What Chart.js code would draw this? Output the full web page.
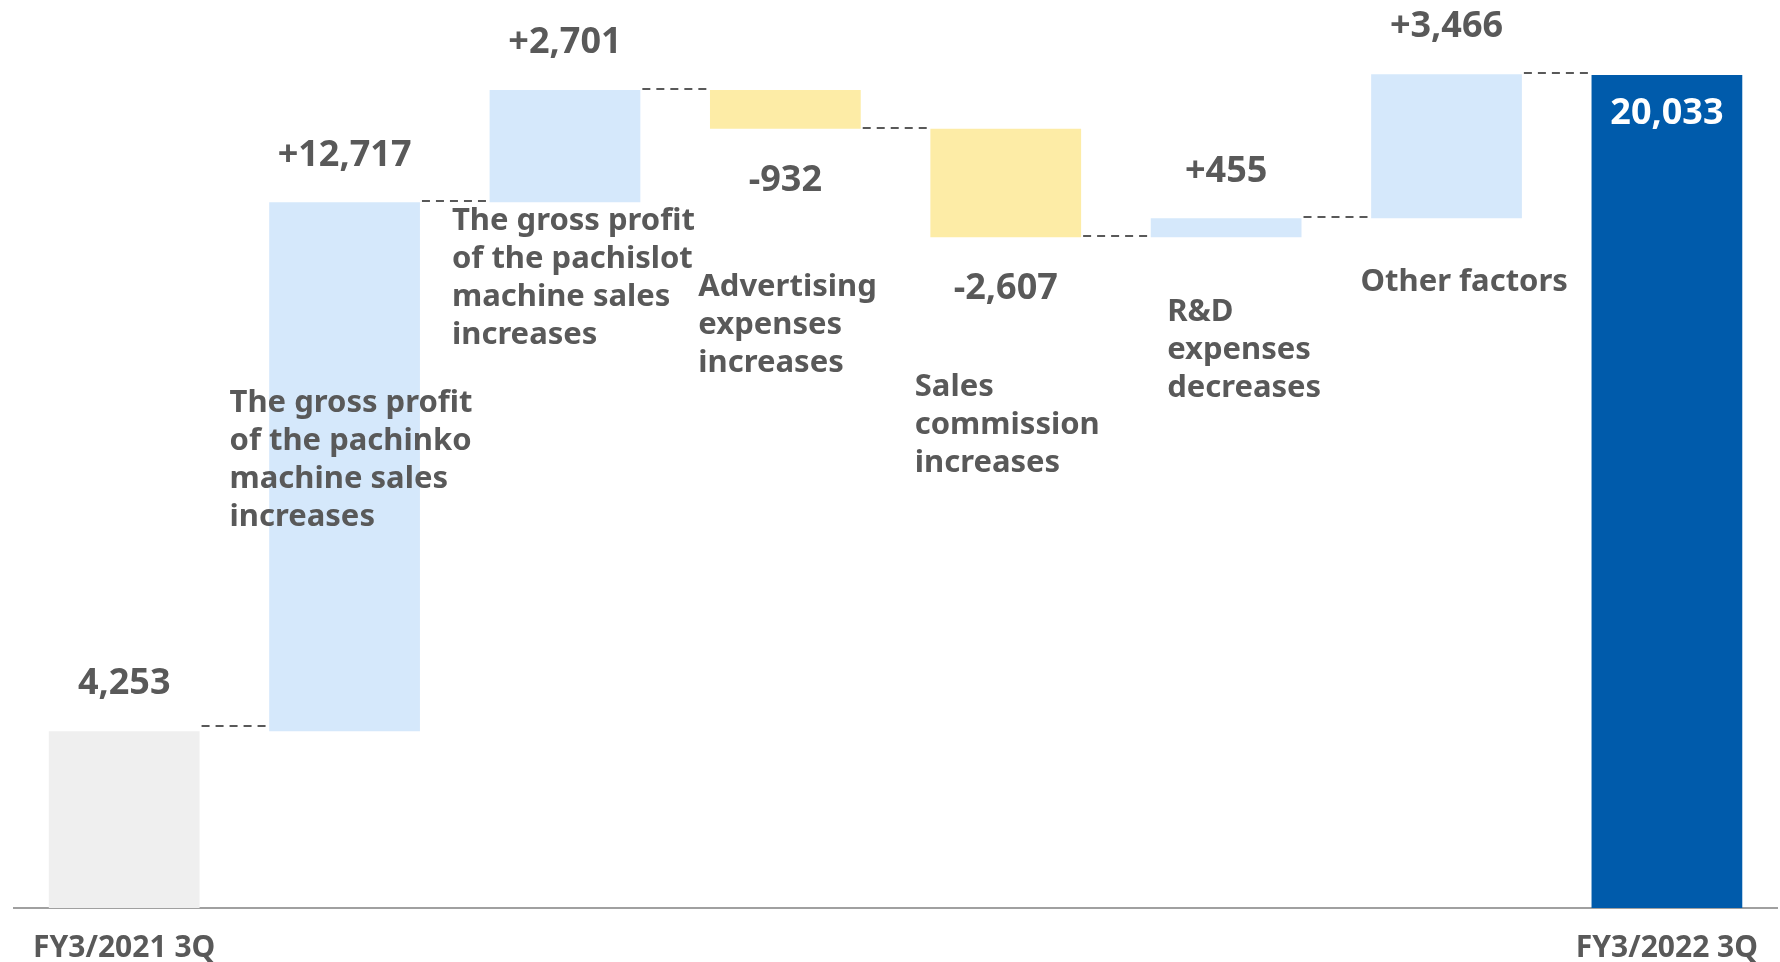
<!DOCTYPE html>
<html>
<head>
<meta charset="utf-8">
<script src="https://cdn.jsdelivr.net/npm/chart.js@4/dist/chart.umd.min.js"></script>
<style>
  html, body { margin: 0; padding: 0; background: #fff; }
  #wrap { width: 1780px; height: 962px; }
</style>
</head>
<body>
<div id="wrap"><canvas id="bridge"></canvas></div>
<script>
// === Data ===
const categories = ['FY3/2021 3Q', 'Pachinko', 'Pachislot', 'Advertising', 'Sales commission', 'R&D', 'Other factors', 'FY3/2022 3Q'];
const startValue = 4253;
const changes = [12717, 2701, -932, -2607, 455, 3466];
const endValue = 20033;
const noteLines = [
  ['The gross profit', 'of the pachinko', 'machine sales', 'increases'],
  ['The gross profit', 'of the pachislot', 'machine sales', 'increases'],
  ['Advertising', 'expenses', 'increases'],
  ['Sales', 'commission', 'increases'],
  ['R&D', 'expenses', 'decreases'],
  ['Other factors']
];

// === Layout / style (not data) ===
const noteOffsets = [[-115, 389], [-113, 207], [-87, 273], [-91, 373], [-59, 298], [-86, 268]];
const textColor = '#595959';
const fontFamily = '"Noto Sans", "DejaVu Sans", sans-serif';

// build floating bars
const bars = [[0, startValue]];
let running = startValue;
changes.forEach(c => {
  bars.push([running, running + c]);
  running += c;
});
bars.push([0, endValue]);

const colors = [
  '#efefef',
  ...changes.map(c => c >= 0 ? '#d5e8fb' : '#fdeca6'),
  '#005bab'
];

const fmt = v => Math.abs(v).toLocaleString('en-US');
const valueTexts = [fmt(startValue), ...changes.map(c => (c >= 0 ? '+' : '-') + fmt(c)), fmt(endValue)];

// === Plugins ===
const connectors = {
  id: 'connectors',
  afterDatasetsDraw(chart) {
    const ctx = chart.ctx;
    const meta = chart.getDatasetMeta(0);
    const y = chart.scales.y;
    ctx.save();
    ctx.strokeStyle = textColor;
    ctx.lineWidth = 2;
    ctx.setLineDash([8, 6]);
    for (let i = 0; i < bars.length - 1; i++) {
      const a = meta.data[i], b = meta.data[i + 1];
      const py = Math.round(y.getPixelForValue(bars[i][1])) - (i === 0 ? 5 : 1);
      ctx.beginPath();
      ctx.moveTo(a.x + a.width / 2 + 2, py);
      ctx.lineTo(b.x - b.width / 2, py);
      ctx.stroke();
    }
    ctx.restore();
  }
};

const labels = {
  id: 'labels',
  afterDatasetsDraw(chart) {
    const ctx = chart.ctx;
    const meta = chart.getDatasetMeta(0);
    const y = chart.scales.y;
    const area = chart.chartArea;
    ctx.save();
    ctx.textAlign = 'center';
    ctx.textBaseline = 'middle';
    ctx.font = 'bold 36px ' + fontFamily;
    bars.forEach((b, i) => {
      const el = meta.data[i];
      const top = y.getPixelForValue(Math.max(b[0], b[1]));
      const bottom = y.getPixelForValue(Math.min(b[0], b[1]));
      let py, col = textColor;
      if (i === bars.length - 1) { py = top + 39; col = '#ffffff'; }
      else if (i > 0 && changes[i - 1] < 0) py = bottom + 52;
      else py = top - 47;
      ctx.fillStyle = col;
      ctx.fillText(valueTexts[i], el.x, py);
    });

    // descriptions
    ctx.textAlign = 'left';
    ctx.font = 'bold 31px ' + fontFamily;
    ctx.fillStyle = textColor;
    noteLines.forEach((lines, k) => {
      const el = meta.data[k + 1];
      const [dx, dy] = noteOffsets[k];
      lines.forEach((t, j) => ctx.fillText(t, el.x + dx, area.top + dy + j * 38));
    });
    ctx.restore();
  }
};

// === Chart ===
new Chart(document.getElementById('bridge').getContext('2d'), {
  type: 'bar',
  data: {
    labels: categories,
    datasets: [{
      data: bars,
      backgroundColor: colors,
      borderWidth: 0,
      categoryPercentage: 1,
      barPercentage: 0.684
    }]
  },
  options: {
    responsive: true,
    maintainAspectRatio: false,
    animation: false,
    layout: { padding: { top: 14, left: 14, right: 0, bottom: 0 } },
    plugins: { legend: { display: false }, tooltip: { enabled: false } },
    scales: {
      x: {
        afterFit: s => { s.height = 54; },
        grid: { display: false, drawTicks: false },
        border: { display: true, color: '#a0a0a0', width: 2 },
        ticks: {
          autoSkip: false,
          maxRotation: 0,
          padding: 22,
          color: textColor,
          font: { family: fontFamily, size: 30, weight: 'bold' },
          callback: (v, i) => (i === 0 || i === categories.length - 1) ? categories[i] : ''
        }
      },
      y: { display: false, min: 0, max: 21500 }
    }
  },
  plugins: [connectors, labels]
});
</script>
</body>
</html>
